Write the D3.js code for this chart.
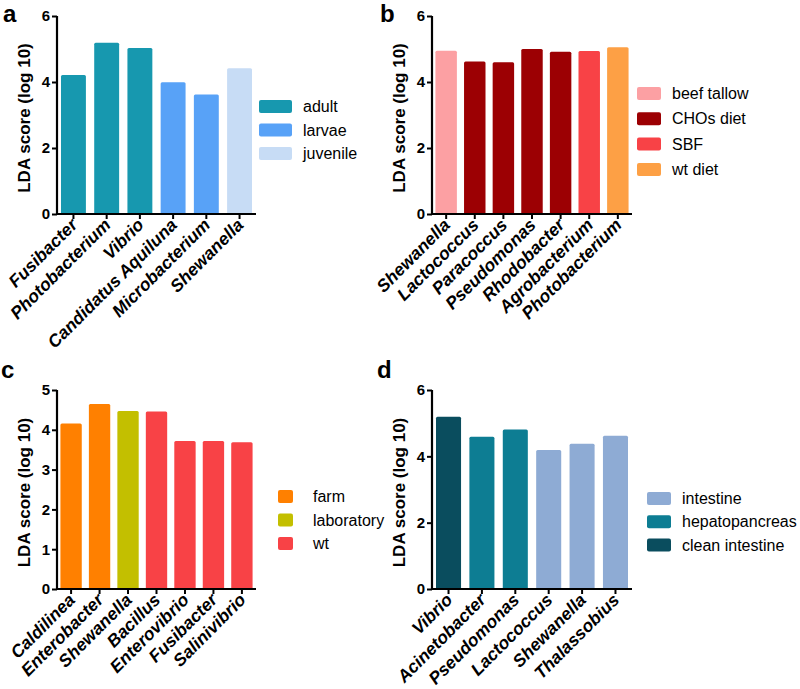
<!DOCTYPE html>
<html>
<head>
<meta charset="utf-8">
<script src="https://cdn.jsdelivr.net/npm/d3@7"></script>
<style>
  html, body { margin: 0; padding: 0; background: #ffffff; }
  svg { display: block; font-family: "Liberation Sans", Arial, Helvetica, sans-serif; }
</style>
</head>
<body>
<svg id="chart" width="800" height="689"></svg>
<script>
// ---------------- DATA ----------------
// Panel a
const aCategories = ["Fusibacter", "Photobacterium", "Vibrio", "Candidatus Aquiluna", "Microbacterium", "Shewanella"];
const aValues = [4.21, 5.19, 5.03, 3.99, 3.62, 4.42];
const aGroups = ["adult", "adult", "adult", "larvae", "larvae", "juvenile"];
const aLegend = ["adult", "larvae", "juvenile"];
const aTicks = [0, 2, 4, 6];

// Panel b
const bCategories = ["Shewanella", "Lactococcus", "Paracoccus", "Pseudomonas", "Rhodobacter", "Agrobacterium", "Photobacterium"];
const bValues = [4.95, 4.62, 4.60, 5.00, 4.92, 4.94, 5.05];
const bGroups = ["beef tallow", "CHOs diet", "CHOs diet", "CHOs diet", "CHOs diet", "SBF", "wt diet"];
const bLegend = ["beef tallow", "CHOs diet", "SBF", "wt diet"];
const bTicks = [0, 2, 4, 6];

// Panel c
const cCategories = ["Caldilinea", "Enterobacter", "Shewanella", "Bacillus", "Enterovibrio", "Fusibacter", "Salinivibrio"];
const cValues = [4.16, 4.65, 4.47, 4.46, 3.72, 3.72, 3.69];
const cGroups = ["farm", "farm", "laboratory", "wt", "wt", "wt", "wt"];
const cLegend = ["farm", "laboratory", "wt"];
const cTicks = [0, 1, 2, 3, 4, 5];

// Panel d
const dCategories = ["Vibrio", "Acinetobacter", "Pseudomonas", "Lactococcus", "Shewanella", "Thalassobius"];
const dValues = [5.19, 4.59, 4.81, 4.19, 4.38, 4.62];
const dGroups = ["clean intestine", "hepatopancreas", "hepatopancreas", "intestine", "intestine", "intestine"];
const dLegend = ["intestine", "hepatopancreas", "clean intestine"];
const dTicks = [0, 2, 4, 6];

// ---------------- STYLE ----------------
const aColors = ["#1798AF", "#58A2F7", "#C7DCF5"];
const bColors = ["#FCA0A3", "#9C0003", "#F84246", "#FDA045"];
const cColors = ["#FF8000", "#C3BF00", "#F84246"];
const dColors = ["#8EABD4", "#0D7D93", "#0A4D5E"];

const svg = d3.select("#chart");
const FONT = '"Liberation Sans", Arial, Helvetica, sans-serif';

function drawPanel(p) {
  const g = svg.append("g");
  const x = d3.scaleBand().domain(p.categories).range([p.x0, p.x1]).paddingInner(0.25).paddingOuter(0.12);
  const y = d3.scaleLinear().domain([0, p.ymax]).range([p.yBottom, p.yTop]);
  const color = d3.scaleOrdinal().domain(p.legend).range(p.colors);

  // bars
  g.selectAll("rect.bar").data(p.values).enter().append("rect")
    .attr("class", "bar")
    .attr("x", (d, i) => x(p.categories[i]))
    .attr("width", x.bandwidth())
    .attr("y", d => y(d))
    .attr("height", d => y(0) - y(d))
    .attr("rx", 1.5)
    .attr("fill", (d, i) => color(p.groups[i]));

  // y axis
  const yAxis = g.append("g").attr("transform", `translate(${p.x0},0)`)
    .call(d3.axisLeft(y).tickValues(p.ticks).tickSize(5).tickSizeOuter(0).tickPadding(2).tickFormat(d3.format("d")));
  yAxis.select(".domain").attr("stroke", "#000").attr("stroke-width", 2.2).attr("d", `M0,${p.yTop}V${p.yBottom + 1}`);
  yAxis.selectAll(".tick line").attr("stroke", "#000").attr("stroke-width", 2);
  yAxis.selectAll(".tick text").attr("fill", "#000")
    .style("font-family", FONT).style("font-size", "15px").style("font-weight", "bold");

  // x axis
  const xAxis = g.append("g").attr("transform", `translate(0,${p.yBottom})`)
    .call(d3.axisBottom(x).tickSize(5).tickSizeOuter(0));
  xAxis.select(".domain").attr("stroke", "#000").attr("stroke-width", 2.2).attr("d", `M${p.x0 - 1},0H${p.x1}`);
  xAxis.selectAll(".tick line").attr("stroke", "#000").attr("stroke-width", 2);
  xAxis.selectAll(".tick text")
    .attr("x", 0).attr("y", 0).attr("dy", null)
    .attr("text-anchor", "end")
    .attr("transform", "translate(5,12) rotate(-45)")
    .attr("fill", "#000")
    .style("font-family", FONT).style("font-size", "17.5px")
    .style("font-weight", "bold").style("font-style", "italic");

  // y axis title
  g.append("text")
    .attr("transform", `translate(${p.x0 - 27},${(p.yTop + p.yBottom) / 2 + 3}) rotate(-90)`)
    .attr("text-anchor", "middle")
    .style("font-family", FONT).style("font-size", "17px").style("font-weight", "bold")
    .attr("fill", "#000")
    .text("LDA score (log 10)");

  // panel label
  g.append("text")
    .attr("x", p.labelX).attr("y", p.labelY)
    .style("font-family", FONT).style("font-size", "24px").style("font-weight", "bold")
    .attr("fill", "#000")
    .text(p.label);

  // legend
  const lg = g.append("g").attr("transform", `translate(${p.legX},${p.legY})`);
  p.legend.forEach((name, i) => {
    const row = lg.append("g").attr("transform", `translate(0,${i * p.legStep})`);
    row.append("rect").attr("x", 0).attr("y", -6.5).attr("width", p.swW).attr("height", 13)
      .attr("rx", 2).attr("fill", color(name));
    row.append("text").attr("x", p.legTextX).attr("y", 0).attr("dy", "0.35em")
      .style("font-family", FONT).style("font-size", "16px")
      .attr("fill", "#000").text(name);
  });
}

drawPanel({ label: "a", labelX: 3, labelY: 22, categories: aCategories, values: aValues, groups: aGroups,
  legend: aLegend, colors: aColors, ticks: aTicks, ymax: 6,
  x0: 57, x1: 256, yTop: 16, yBottom: 214, legX: 259, legY: 106.5, legStep: 23.5, swW: 33, legTextX: 44 });

drawPanel({ label: "b", labelX: 380, labelY: 22, categories: bCategories, values: bValues, groups: bGroups,
  legend: bLegend, colors: bColors, ticks: bTicks, ymax: 6,
  x0: 432, x1: 632, yTop: 16, yBottom: 214, legX: 637, legY: 93.5, legStep: 25.3, swW: 24, legTextX: 35 });

drawPanel({ label: "c", labelX: 1, labelY: 378, categories: cCategories, values: cValues, groups: cGroups,
  legend: cLegend, colors: cColors, ticks: cTicks, ymax: 5,
  x0: 57, x1: 256, yTop: 390, yBottom: 589, legX: 278, legY: 496.5, legStep: 23.5, swW: 15, legTextX: 35 });

drawPanel({ label: "d", labelX: 377, labelY: 378, categories: dCategories, values: dValues, groups: dGroups,
  legend: dLegend, colors: dColors, ticks: dTicks, ymax: 6,
  x0: 432, x1: 632, yTop: 390, yBottom: 589, legX: 647, legY: 498.5, legStep: 23.3, swW: 24, legTextX: 35 });
</script>
</body>
</html>
